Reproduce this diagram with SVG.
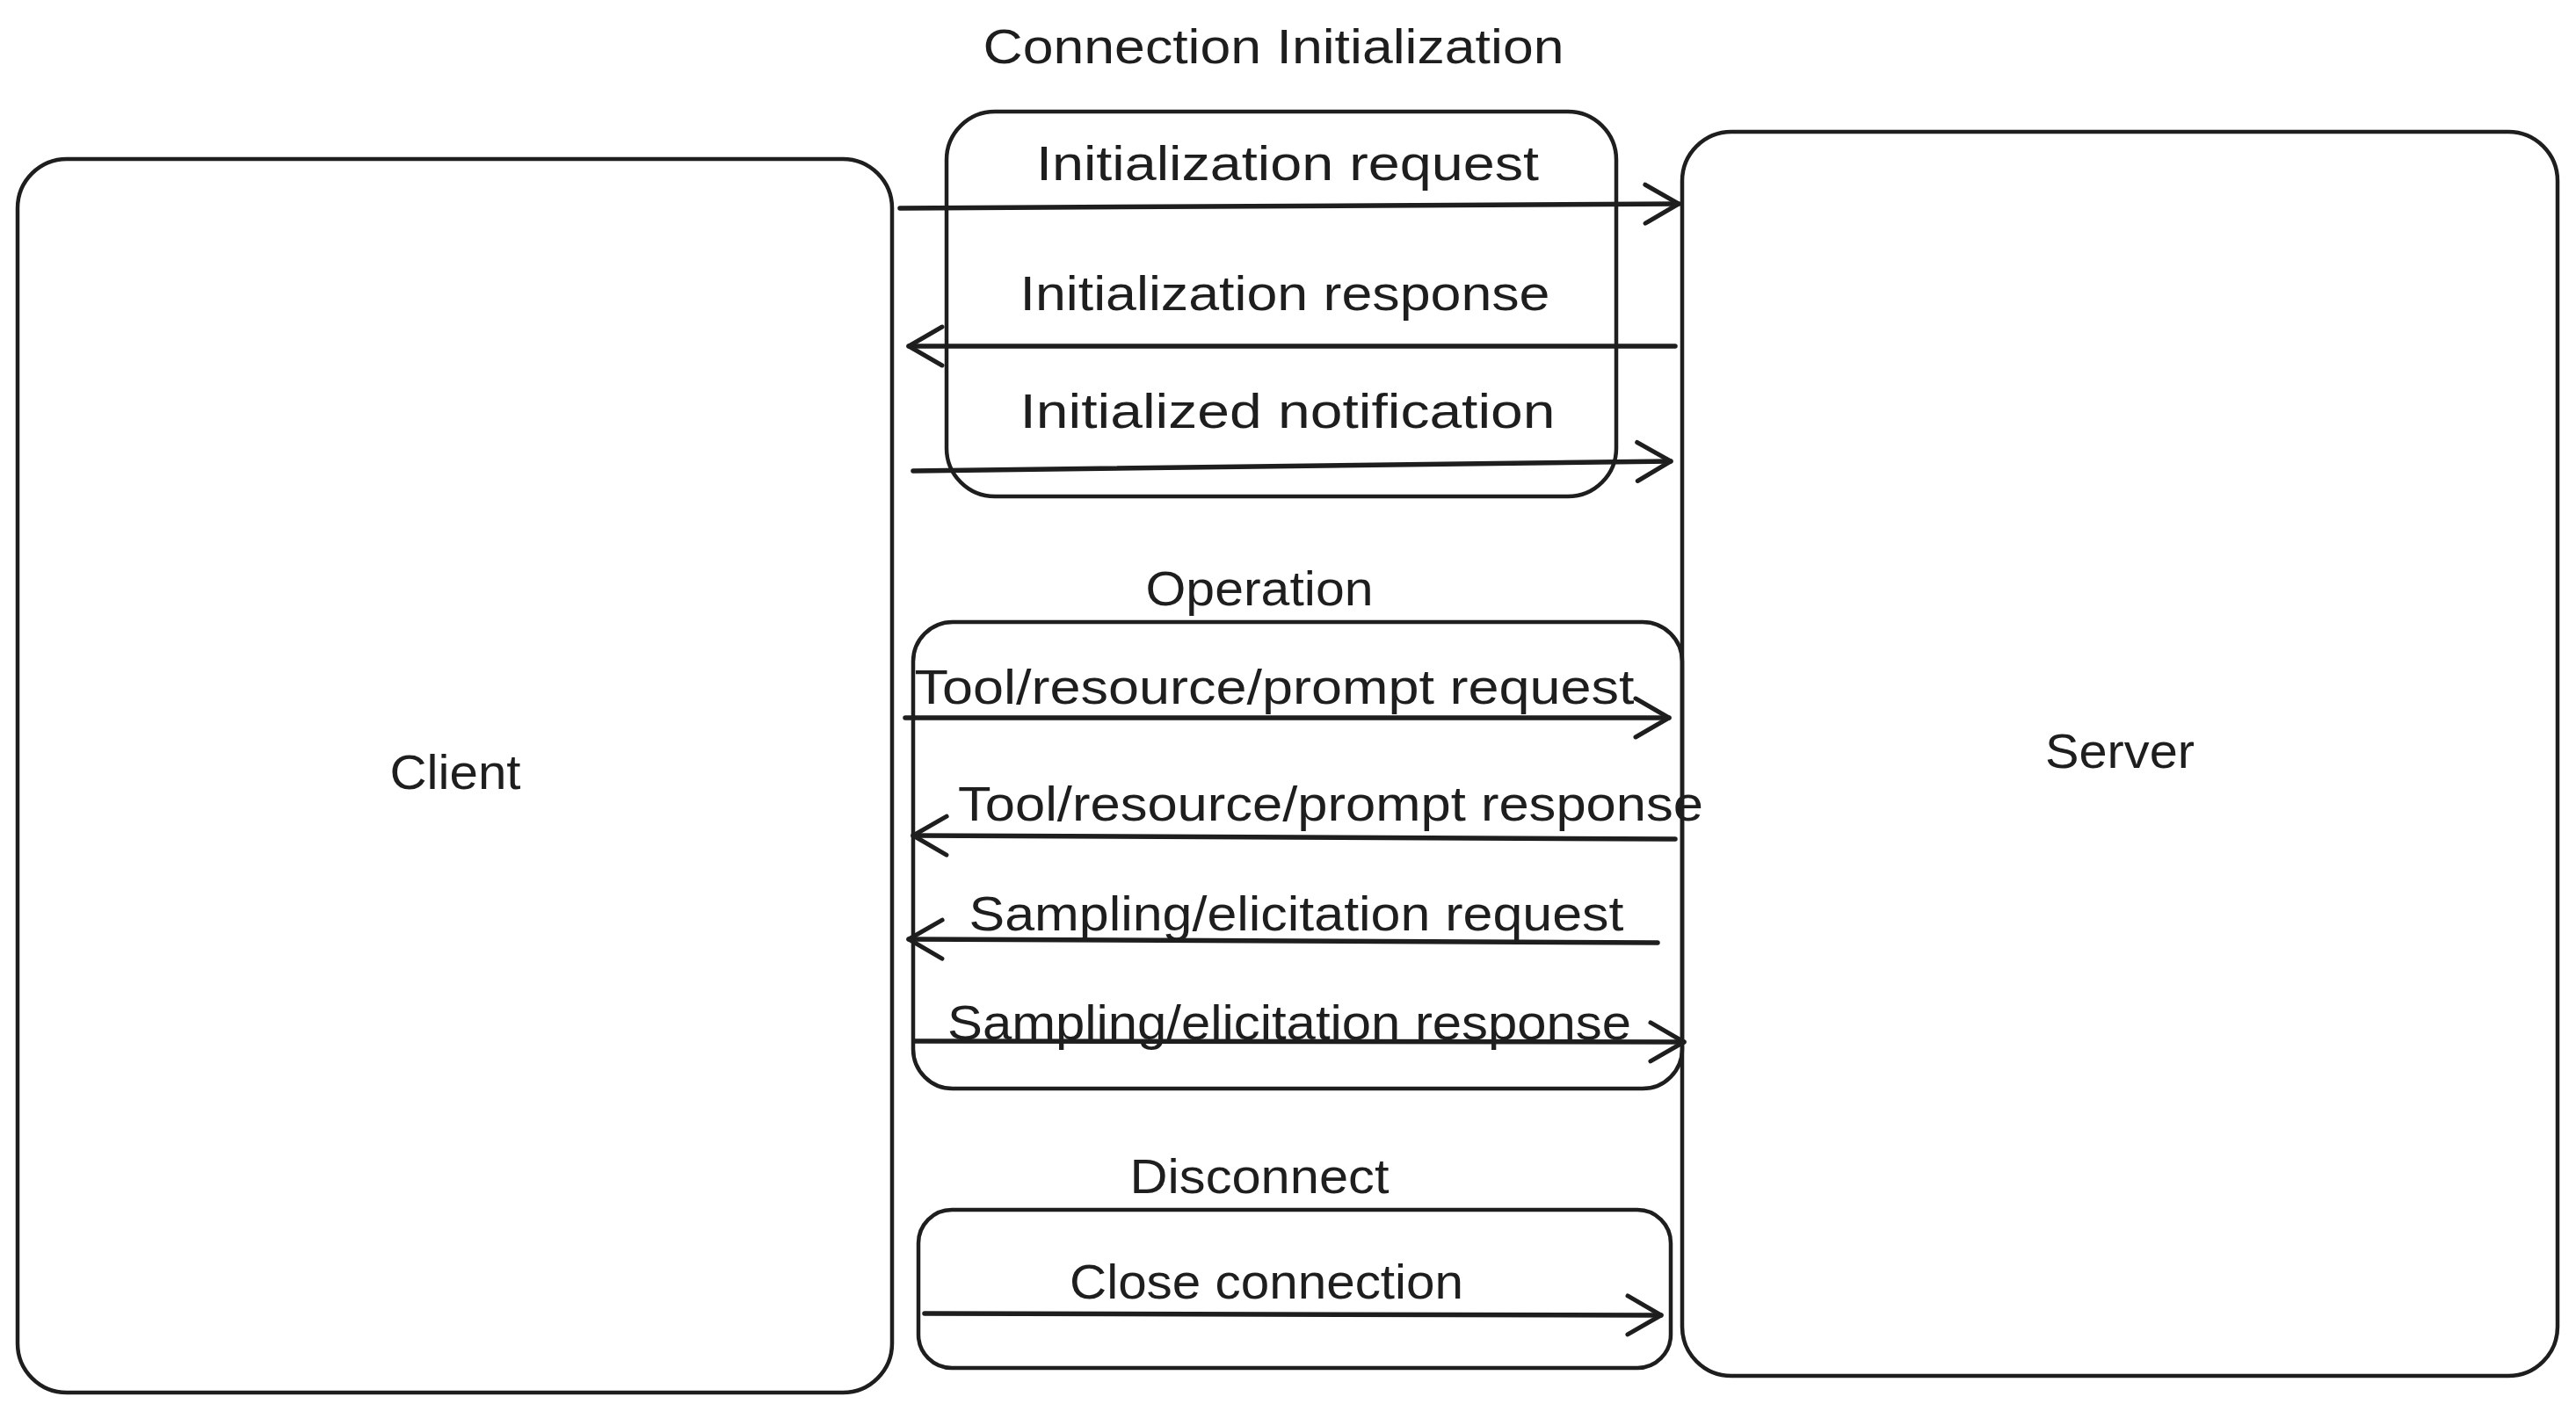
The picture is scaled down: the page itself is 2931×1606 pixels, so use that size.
<svg xmlns="http://www.w3.org/2000/svg" width="2931" height="1606" viewBox="0 0 2931 1606">
<defs>
<style>
.box{fill:none;stroke:#1e1e1e;stroke-width:4.5}
.conn{fill:none;stroke:#1e1e1e;stroke-width:5.5;stroke-linecap:round}
.t{font-family:"Liberation Sans","DejaVu Sans",sans-serif;font-size:56px;fill:#1e1e1e;text-anchor:middle;dominant-baseline:central}
</style>
<marker id="arr" markerUnits="userSpaceOnUse" markerWidth="60" markerHeight="60" viewBox="-45 -30 50 60" refX="0" refY="0" orient="auto">
<path d="M -38 -22 L 0 0 L -38 22" fill="none" stroke="#1e1e1e" stroke-width="5" stroke-linecap="round" stroke-linejoin="round"/>
</marker>
</defs>
<rect width="2931" height="1606" fill="#ffffff"/>
<g id="client">
<rect class="box" x="20" y="181" width="995" height="1404" rx="56"/>
<text class="t" x="518" y="878" textLength="149" lengthAdjust="spacingAndGlyphs">Client</text>
</g>
<g id="server">
<rect class="box" x="1914" y="150" width="996" height="1416" rx="56"/>
<text class="t" x="2412" y="854" textLength="170" lengthAdjust="spacingAndGlyphs">Server</text>
</g>
<g id="init-group">
<text class="t" x="1449" y="52" textLength="661" lengthAdjust="spacingAndGlyphs">Connection Initialization</text>
<rect class="box" x="1077" y="127" width="762" height="438" rx="55"/>
</g>
<g id="operation-group">
<text class="t" x="1433" y="669" textLength="259" lengthAdjust="spacingAndGlyphs">Operation</text>
<rect class="box" x="1039" y="708" width="875" height="531" rx="45"/>
</g>
<g id="disconnect-group">
<text class="t" x="1433" y="1338" textLength="295" lengthAdjust="spacingAndGlyphs">Disconnect</text>
<rect class="box" x="1045" y="1377" width="856" height="180" rx="38"/>
</g>
<g id="connectors">
<line class="conn" x1="1024" y1="237" x2="1910" y2="232" marker-end="url(#arr)"/>
<line class="conn" x1="1906" y1="394" x2="1034" y2="394" marker-end="url(#arr)"/>
<line class="conn" x1="1039" y1="536" x2="1901" y2="525" marker-end="url(#arr)"/>
<line class="conn" x1="1030" y1="817" x2="1899" y2="817" marker-end="url(#arr)"/>
<line class="conn" x1="1906" y1="955" x2="1039" y2="951" marker-end="url(#arr)"/>
<line class="conn" x1="1886" y1="1073" x2="1034" y2="1069" marker-end="url(#arr)"/>
<line class="conn" x1="1041" y1="1185" x2="1916" y2="1186" marker-end="url(#arr)"/>
<line class="conn" x1="1052" y1="1495" x2="1890" y2="1497" marker-end="url(#arr)"/>
<text class="t" x="1465" y="185" textLength="572" lengthAdjust="spacingAndGlyphs">Initialization request</text>
<text class="t" x="1462" y="333" textLength="603" lengthAdjust="spacingAndGlyphs">Initialization response</text>
<text class="t" x="1465" y="467" textLength="609" lengthAdjust="spacingAndGlyphs">Initialized notification</text>
<text class="t" x="1450" y="781" textLength="819" lengthAdjust="spacingAndGlyphs">Tool/resource/prompt request</text>
<text class="t" x="1514" y="914" textLength="848" lengthAdjust="spacingAndGlyphs">Tool/resource/prompt response</text>
<text class="t" x="1475" y="1039" textLength="745" lengthAdjust="spacingAndGlyphs">Sampling/elicitation request</text>
<text class="t" x="1467" y="1163" textLength="778" lengthAdjust="spacingAndGlyphs">Sampling/elicitation response</text>
<text class="t" x="1441" y="1458" textLength="448" lengthAdjust="spacingAndGlyphs">Close connection</text>
</g>
</svg>
